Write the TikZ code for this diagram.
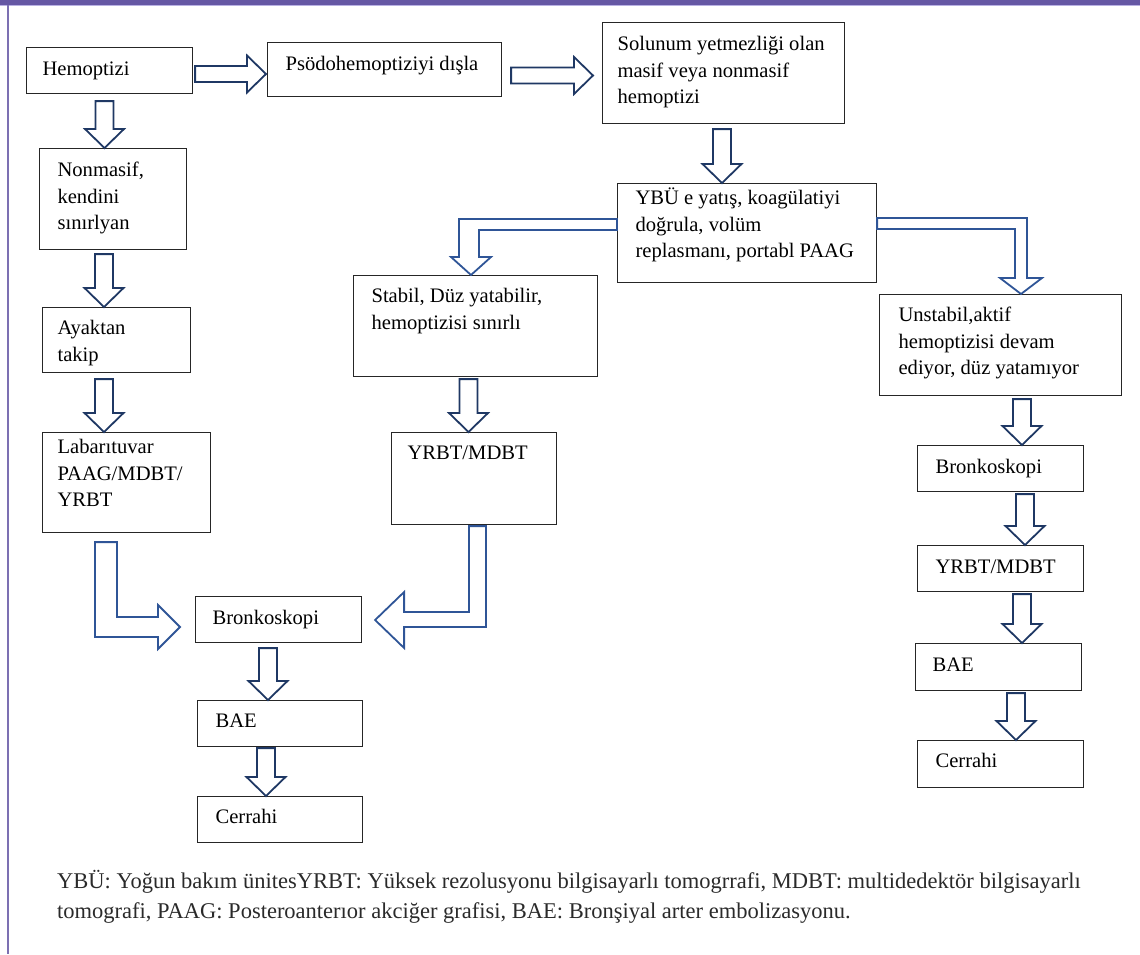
\documentclass[tikz,border=0pt]{standalone}
\usepackage{fontspec}
\setmainfont{Liberation Serif}
\usetikzlibrary{calc}
\definecolor{barpurple}{HTML}{6557A4}
\definecolor{barlight}{HTML}{B9B1E3}
\definecolor{navy}{HTML}{1F3864}
\definecolor{midblue}{HTML}{2F5597}
\definecolor{captext}{HTML}{2A2A2A}
\definecolor{boxline}{HTML}{262626}

\tikzset{
  box/.style={draw=boxline, line width=1.1pt, inner sep=0pt, anchor=north west, fill=white},
  blk/.style={draw=navy, line width=1.8pt, fill=white, line join=miter},
  blkb/.style={draw=midblue, line width=1.8pt, fill=white, line join=miter},
  captxt/.style={inner sep=0pt, anchor=base west, text=captext, font=\fontsize{22.5}{28}\selectfont},
}
% box text: #1 width, #2 height, #3 left pad, #4 first baseline from top, #5 text
\newcommand\bxt[5]{\parbox[c][#2pt][t]{#1pt}{\raggedright\leftskip=#3pt\fontsize{20.6pt}{26.7pt}\selectfont\leavevmode\rule{0pt}{#4pt}#5}}
% vertical block arrow: [style] x, source, target, gap
\newcommand\varrow[5][blk]{%
  \draw[#1] let \p1=(#3.south), \p2=(#4.north) in
  (#2pt-9pt,\y1-#5pt) -- (#2pt+9pt,\y1-#5pt) -- (#2pt+9pt,\y2+19pt) -- (#2pt+19.5pt,\y2+19pt)
  -- (#2pt,\y2) -- (#2pt-19.5pt,\y2+19pt) -- (#2pt-9pt,\y2+19pt) -- cycle;}
% horizontal block arrow: y, source, target, start gap, end gap
\newcommand\harrow[5]{%
  \draw[blk] let \p1=(#2.east), \p2=(#3.west) in
  (\x1+#4pt,#1pt-8pt) -- (\x2-#5pt-19pt,#1pt-8pt) -- (\x2-#5pt-19pt,#1pt-18.5pt) -- (\x2-#5pt,#1pt)
  -- (\x2-#5pt-19pt,#1pt+18.5pt) -- (\x2-#5pt-19pt,#1pt+8pt) -- (\x1+#4pt,#1pt+8pt) -- cycle;}

\begin{document}
\begin{tikzpicture}[x=1pt,y=1pt]
\useasboundingbox (0,0) rectangle (1140,-954);
% frame
\fill[barpurple] (0,0) rectangle (1140,-5);
\draw[barlight, line width=1pt] (0,-5.5) -- (1140,-5.5);
\draw[barpurple!85, line width=1.2pt] (8,-5) -- (8,-954);

% boxes
\node[box] (hemo) at (26,-47) {\bxt{166}{46}{16}{28}{Hemoptizi}};
\node[box] (psodo) at (267,-42) {\bxt{234}{54}{18}{28}{Psödohemoptiziyi dışla}};
\node[box] (sol) at (602,-22) {\bxt{242}{101}{15}{28}{Solunum yetmezliği olan\\masif veya nonmasif\\hemoptizi}};
\node[box] (nonm) at (39,-148) {\bxt{147}{101}{18}{28}{Nonmasif,\\kendini\\sınırlyan}};
\node[box] (ayak) at (42,-307) {\bxt{148}{65}{15}{27}{Ayaktan\\takip}};
\node[box] (lab) at (42,-432) {\bxt{168}{100}{15}{21}{Labarıtuvar\\PAAG/MDBT/\\YRBT}};
\node[box] (ybu) at (617,-183) {\bxt{259}{99}{18}{21}{YBÜ e yatış, koagülatiyi\\doğrula, volüm\\replasmanı, portabl PAAG}};
\node[box] (stab) at (353,-275) {\bxt{244}{101}{18}{27}{Stabil, Düz yatabilir,\\hemoptizisi sınırlı}};
\node[box] (unst) at (879,-294) {\bxt{242}{101}{19}{27}{Unstabil,aktif\\hemoptizisi devam\\ediyor, düz yatamıyor}};
\node[box] (yrbtm) at (391,-432) {\bxt{165}{92}{16}{27}{YRBT/MDBT}};
\node[box] (bronc) at (195,-596) {\bxt{166}{46}{17}{28}{Bronkoskopi}};
\node[box] (baec) at (197,-700) {\bxt{165}{46}{18}{27}{BAE}};
\node[box] (cerc) at (197,-796) {\bxt{165}{46}{18}{27}{Cerrahi}};
\node[box] (bronr) at (917,-445) {\bxt{166}{46}{18}{28}{Bronkoskopi}};
\node[box] (yrbtr) at (917,-545) {\bxt{166}{46}{18}{28}{YRBT/MDBT}};
\node[box] (baer) at (915,-643) {\bxt{166}{47}{17}{28}{BAE}};
\node[box] (cerr) at (917,-740) {\bxt{166}{47}{18}{27}{Cerrahi}};

% straight arrows
\harrow{-74}{hemo}{psodo}{2}{1}
\harrow{-75.5}{psodo}{sol}{9}{9}
\varrow{104.5}{hemo}{nonm}{7}
\varrow{104}{nonm}{ayak}{4}
\varrow{104}{ayak}{lab}{6}
\varrow{722}{sol}{ybu}{5}
\varrow{468.5}{stab}{yrbtm}{2}
\varrow{1022}{unst}{bronr}{3}
\varrow{1025}{bronr}{yrbtr}{2}
\varrow{1022}{yrbtr}{baer}{2}
\varrow{1016}{baer}{cerr}{2}
\varrow{268}{bronc}{baec}{5}
\varrow{266}{baec}{cerc}{1}

% bent arrows
\draw[blkb] let \p1=(ybu.west), \p2=(stab.north) in
  (\x1,-219pt) -- (459pt,-219pt) -- (459pt,\y2+18pt) -- (451pt,\y2+18pt) -- (471pt,\y2)
  -- (491pt,\y2+18pt) -- (479pt,\y2+18pt) -- (479pt,-230pt) -- (\x1,-230pt) -- cycle;
\draw[blkb] let \p1=(ybu.east), \p2=(unst.north) in
  (\x1,-218pt) -- (1027pt,-218pt) -- (1027pt,\y2+16pt) -- (1042pt,\y2+16pt) -- (1021pt,\y2)
  -- (1000pt,\y2+16pt) -- (1015pt,\y2+16pt) -- (1015pt,-229pt) -- (\x1,-229pt) -- cycle;
\draw[blkb] let \p1=(lab.south), \p2=(bronc.west) in
  (95pt,\y1-9pt) -- (117pt,\y1-9pt) -- (117pt,-617pt) -- (\x2-37pt,-617pt) -- (\x2-37pt,-605pt)
  -- (\x2-15pt,-627pt) -- (\x2-37pt,-649pt) -- (\x2-37pt,-637pt) -- (95pt,-637pt) -- cycle;
\draw[blkb] let \p1=(yrbtm.south), \p2=(bronc.east) in
  (469pt,\y1-1pt) -- (486pt,\y1-1pt) -- (486pt,-627pt) -- (\x2+42pt,-627pt) -- (\x2+42pt,-648pt)
  -- (\x2+13pt,-620pt) -- (\x2+42pt,-592pt) -- (\x2+42pt,-612pt) -- (469pt,-612pt) -- cycle;

% caption
\node[captxt] (cap1) at (57,-888) {YBÜ: Yoğun bakım ünitesYRBT: Yüksek rezolusyonu bilgisayarlı tomogrrafi, MDBT: multidedektör bilgisayarlı};
\node[captxt] (cap2) at (57,-918) {tomografi, PAAG: Posteroanterıor akciğer grafisi, BAE: Bronşiyal arter embolizasyonu.};
\end{tikzpicture}
\end{document}
